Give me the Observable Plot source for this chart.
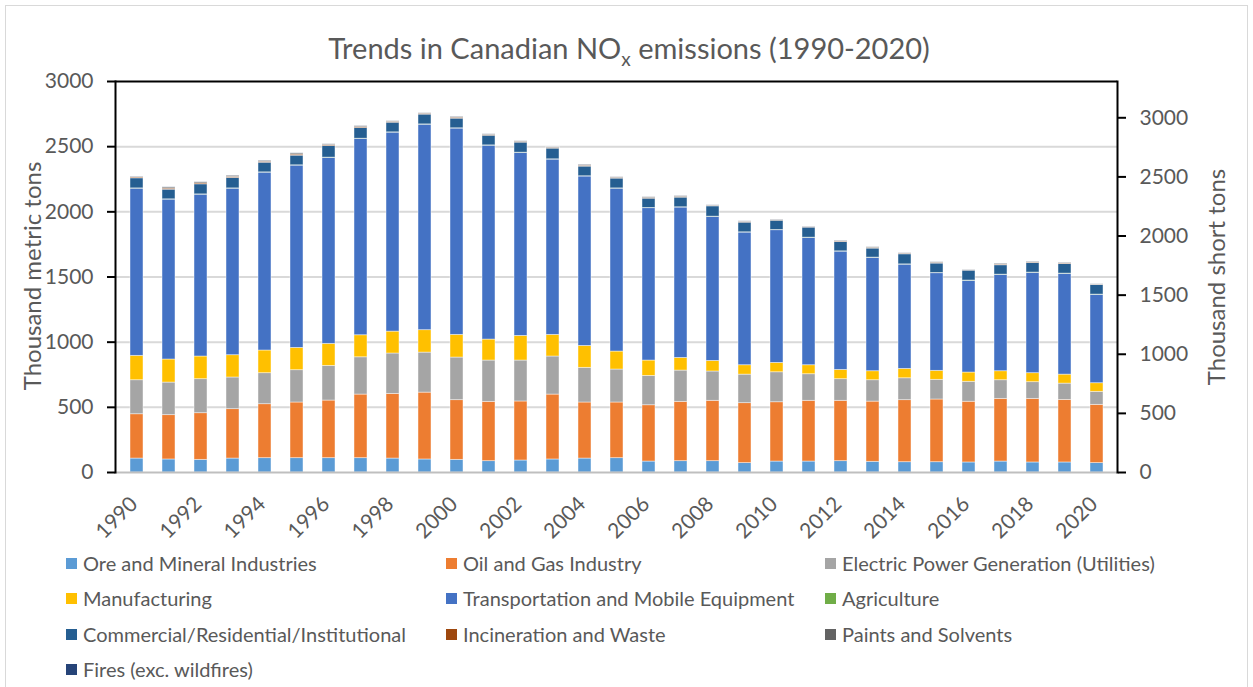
<!DOCTYPE html>
<html><head><meta charset="utf-8">
<script src="https://cdn.jsdelivr.net/npm/d3@7"></script>
<script src="https://cdn.jsdelivr.net/npm/@observablehq/plot@0.6"></script>
<style>
body{margin:0;background:#fff;font-family:Lato,"Liberation Sans",sans-serif;}
#wrap{position:relative;width:1253px;height:687px;overflow:hidden;background:#fff;}
#border{position:absolute;left:5px;top:5px;width:1243px;height:720px;border:1.5px solid #d9d9d9;box-sizing:border-box;}
#title{position:absolute;top:30px;left:0;width:1258px;text-align:center;font-size:29px;color:#595959;line-height:36px;}
#title sub{font-size:19px;vertical-align:-7px;line-height:0;}
.ytitle{position:absolute;font-size:24px;color:#595959;white-space:nowrap;transform:translate(-50%,-50%) rotate(-90deg);}
#chart{position:absolute;left:0;top:0;}
.leg{position:absolute;font-size:20px;color:#595959;white-space:nowrap;display:flex;align-items:center;height:24px;}
.sw{width:11px;height:11px;margin-right:6px;flex:none;}
</style>
</head><body>
<div id="wrap">
  <div id="border"></div>
  <div id="chart"></div>
  <div id="title">Trends in Canadian NO<sub>x</sub> emissions (1990-2020)</div>
  <div class="ytitle" style="left:31px;top:276px;">Thousand metric tons</div>
  <div class="ytitle" style="left:1215px;top:277px;">Thousand short tons</div>
  <div id="legend"></div>
</div>
<script>
const years = d3.range(1990, 2021);
const categories = [
  "Ore and Mineral Industries",
  "Oil and Gas Industry",
  "Electric Power Generation (Utilities)",
  "Manufacturing",
  "Transportation and Mobile Equipment",
  "Agriculture",
  "Commercial/Residential/Institutional",
  "Incineration and Waste",
  "Paints and Solvents",
  "Fires (exc. wildfires)"
];
const colors = ["#5B9BD5","#ED7D31","#A5A5A5","#FFC000","#4472C4","#70AD47","#255E91","#9E480E","#636363","#264478"];

const ore = [107,100,97,107,110,110,110,110,107,100,97,87,92,100,107,110,84,87,87,72,84,84,87,82,79,79,77,84,77,77,72];
const oilGas = [340,340,358,379,414,427,442,488,496,513,458,455,453,498,430,427,432,455,463,460,455,466,463,462,476,481,466,481,488,480,447];
const electric = [261,250,261,243,238,248,266,286,310,307,327,317,314,292,266,253,225,240,225,219,230,204,166,164,168,151,153,143,128,125,100];
const manufacturing = [187,177,174,171,174,171,169,169,168,172,174,161,189,166,168,138,118,97,81,72,72,69,71,69,72,69,71,69,69,69,66];
const transportation = [1283,1227,1242,1278,1365,1399,1427,1506,1527,1577,1583,1488,1404,1345,1300,1250,1169,1154,1105,1018,1018,977,908,870,800,749,704,739,770,773,678];
const agriculture = [2,2,2,2,2,2,2,2,2,2,2,2,2,2,2,2,2,2,2,2,2,2,2,2,2,2,2,2,2,2,2];
const commercial = [77,74,77,80,74,74,89,82,74,75,74,74,77,82,74,75,71,74,79,74,71,77,72,69,77,72,76,72,74,74,74];
const incineration = [7,8,8,8,7,8,7,7,6,6,7,5,5,5,6,5,5,5,3,4,3,3,4,5,4,5,2,5,4,4,2];
const paints = [5,9,9,9,8,9,7,8,6,5,7,5,6,6,8,6,7,7,4,5,4,3,5,6,5,6,2,7,5,5,2];
const fires = [1,1,1,1,1,1,1,1,1,1,1,1,1,1,1,1,1,1,1,1,1,1,1,1,1,1,1,1,1,1,1];

const leftTicks = [0,500,1000,1500,2000,2500,3000];
const rightTicks = [0,500,1000,1500,2000,2500,3000]; // thousand short tons
const xTickYears = years.filter(y => y % 2 === 0);
const shortToMetric = 0.90718474;

const series = [ore, oilGas, electric, manufacturing, transportation, agriculture, commercial, incineration, paints, fires];
const data = [];
categories.forEach((c, i) => years.forEach((y, j) => data.push({year: y, category: c, value: series[i][j]})));

const tickFont = 21;
const chart = Plot.plot({
  width: 1253, height: 545,
  marginTop: 81, marginBottom: 73, marginLeft: 115, marginRight: 136,
  style: {fontFamily: "Lato, 'Liberation Sans', sans-serif", background: "transparent", overflow: "visible"},
  x: {type: "band", domain: years, paddingInner: 0.6, paddingOuter: 0.3},
  y: {domain: [0, 3000]},
  color: {domain: categories, range: colors},
  marks: [
    Plot.gridY(leftTicks.filter(t => t > 0 && t < 3000), {stroke: "#d9d9d9", strokeOpacity: 1, strokeWidth: 2}),
    Plot.barY(data, {x: "year", y: "value", fill: "category", stroke: "#ffffff", strokeOpacity: 0.55, strokeWidth: 0.8}),
    Plot.ruleY([0], {stroke: "#bfbfbf", strokeWidth: 2}),
    Plot.ruleY([3000], {stroke: "#000", strokeWidth: 2}),
    Plot.frame({anchor: "left", stroke: "#000", strokeWidth: 2}),
    Plot.frame({anchor: "right", stroke: "#000", strokeWidth: 2}),
    Plot.axisY(leftTicks, {anchor: "left", tickSize: 8, tickPadding: 14, stroke: "#000", strokeWidth: 2, fill: "#595959", fontSize: tickFont, label: null, tickFormat: d => String(d)}),
    Plot.axisY(rightTicks.map(t => t * shortToMetric), {anchor: "right", tickSize: 8, tickPadding: 14, stroke: "#000", strokeWidth: 2, fill: "#595959", fontSize: tickFont, label: null, tickFormat: d => String(Math.round(d / shortToMetric))}),
    Plot.axisX(xTickYears, {anchor: "bottom", tickSize: 0, tickPadding: 28, dx: -3, tickRotate: -45, fill: "#595959", fontSize: tickFont, label: null, tickFormat: d => String(d)})
  ]
});
document.getElementById("chart").appendChild(chart);

// legend
const legendCols = [66, 446, 825];
const legendRows = [563, 598, 634, 669];
const legend = document.getElementById("legend");
categories.forEach((c, i) => {
  const col = i % 3, row = Math.floor(i / 3);
  const el = document.createElement("div");
  el.className = "leg";
  el.style.left = legendCols[col] + "px";
  el.style.top = (legendRows[row] - 12) + "px";
  el.innerHTML = `<span class="sw" style="background:${colors[i]}"></span><span>${c}</span>`;
  legend.appendChild(el);
});
</script>
</body></html>
